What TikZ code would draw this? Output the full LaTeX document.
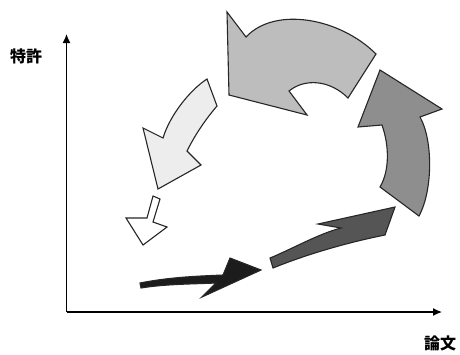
\documentclass[tikz,border=0pt]{standalone}
\usepackage{fontspec}
\newfontfamily\jpfont{Noto Sans CJK JP}
\usetikzlibrary{arrows.meta}
\definecolor{shadeA}{HTML}{1C1C1C}
\definecolor{shadeB}{HTML}{555555}
\definecolor{shadeC}{HTML}{8E8E8E}
\definecolor{shadeD}{HTML}{BDBDBD}
\definecolor{shadeE}{HTML}{EDEDED}
\begin{document}
\begin{tikzpicture}[x=1pt, y=-1pt,
  axis/.style={line width=1.3pt, -{Latex[length=9pt,width=8pt]}},
  blockarrow/.style={draw=black!85, line width=1.1pt, line join=miter},
  axislabel/.style={font=\jpfont\bfseries\fontsize{16}{16}\selectfont, inner sep=0pt}]
\useasboundingbox (0,0) rectangle (460,354);

\coordinate (origin) at (66.5,312);
\coordinate (ytop) at (66.5,34);
\coordinate (xend) at (442,312);
\draw[axis] (origin) -- (ytop);
\draw[axis] (origin) -- (xend);

\node[axislabel] (patent) at (26,56) {特許};
\node[axislabel] (paper) at (440,343) {論文};

\filldraw[blockarrow, fill=shadeA] (140,283) .. controls (170,277) and (200,276) .. (223,275)
  -- (230,258) -- (261,270) -- (202,297) -- (216,283)
  .. controls (195,284) and (165,284) .. (141,288) -- cycle;

\filldraw[blockarrow, fill=shadeB] (270,258) .. controls (292,249) and (318,234) .. (341,228)
  -- (318,224) -- (395,207) -- (385,235)
  .. controls (345,243) and (305,255) .. (273,268) -- cycle;

\filldraw[blockarrow, fill=shadeC] (380,187) -- (419,216)
  .. controls (433,190) and (433,140) .. (420,117)
  -- (442,109) -- (380,70) -- (358,127) -- (382,125)
  .. controls (389,145) and (390,170) .. (380,187) -- cycle;

\filldraw[blockarrow, fill=shadeD] (376,54) .. controls (340,18) and (275,6) .. (246,37)
  -- (227,12) -- (229,95) -- (307,115) -- (289,91)
  .. controls (305,78) and (330,80) .. (348,98) -- cycle;

\filldraw[blockarrow, fill=shadeE] (207,79) .. controls (190,90) and (170,115) .. (163,138)
  -- (143,128) -- (158,189) -- (201,165) -- (187,151)
  .. controls (195,135) and (205,120) .. (217,106) -- cycle;

\filldraw[blockarrow, fill=white] (153,196) -- (160,199) -- (153,222) -- (167,227)
  -- (143,245) -- (126,218) -- (147,218) -- cycle;
\end{tikzpicture}
\end{document}
